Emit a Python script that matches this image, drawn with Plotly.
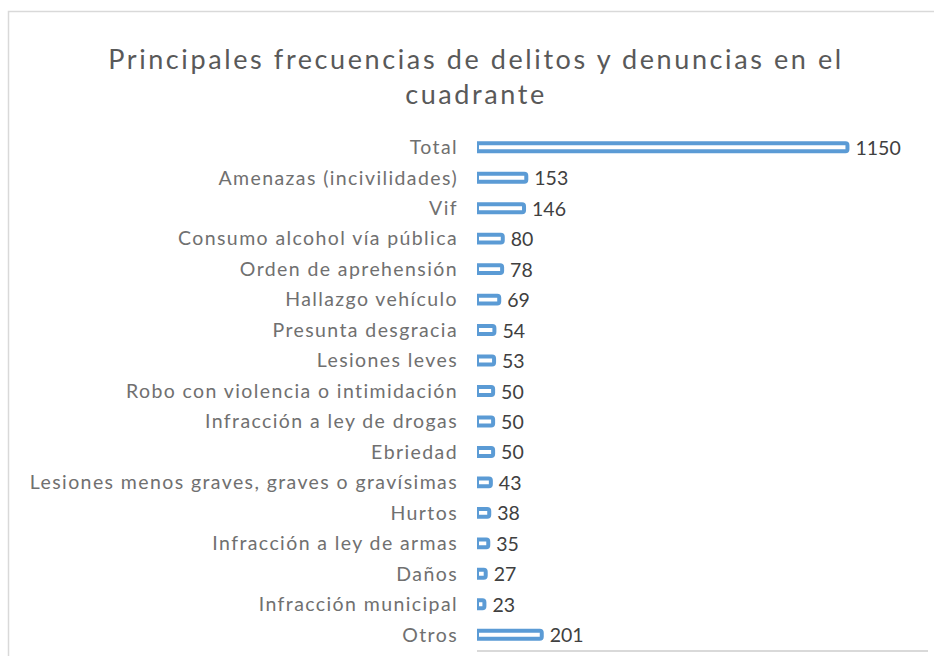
import plotly.graph_objects as go

categories = [
    "Total",
    "Amenazas (incivilidades)",
    "Vif",
    "Consumo alcohol vía pública",
    "Orden de aprehensión",
    "Hallazgo vehículo",
    "Presunta desgracia",
    "Lesiones leves",
    "Robo con violencia o intimidación",
    "Infracción a ley de drogas",
    "Ebriedad",
    "Lesiones menos graves, graves o gravísimas",
    "Hurtos",
    "Infracción a ley de armas",
    "Daños",
    "Infracción municipal",
    "Otros",
]
values = [1150, 153, 146, 80, 78, 69, 54, 53, 50, 50, 50, 43, 38, 35, 27, 23, 201]
title_text = "Principales frecuencias de delitos y denuncias en el<br>cuadrante"

W, H = 934, 656
ML, MR, MT, MB = 477, 6, 132, 6
BLUE = "#5B9BD5"

fig = go.Figure(
    go.Bar(
        y=categories,
        x=values,
        orientation="h",
        marker=dict(color="white", line=dict(color=BLUE, width=4), cornerradius=2),
        text=[" " + str(v) for v in values],
        textposition="outside",
        constraintext="none",
        cliponaxis=False,
        textfont=dict(family="Lato", size=19.5, color="#404040"),
        hoverinfo="skip",
    )
)

pw = W - ML - MR
ph = H - MT - MB
fx0 = (8.5 - ML) / pw
fy1 = 1 + (MT - 11.5) / ph
fig.add_shape(
    type="rect", xref="paper", yref="paper",
    x0=fx0, x1=1 + (MR + 20) / pw, y0=-(MB + 20) / ph, y1=fy1,
    line=dict(color="#D9D9D9", width=1.5), fillcolor="rgba(0,0,0,0)", layer="below",
)

fig.update_layout(
    width=W, height=H,
    margin=dict(l=ML, r=MR, t=MT, b=MB),
    paper_bgcolor="white", plot_bgcolor="white",
    bargap=0.74,
    showlegend=False,
    title=dict(
        text=title_text,
        x=476 / W, xanchor="center",
        y=1 - 69 / H, yanchor="top",
        font=dict(family="Lato", size=27, color="#595959"),
    ),
    xaxis=dict(
        range=[0, 1400], showgrid=False, zeroline=False,
        showticklabels=False, showline=True, linecolor="#D9D9D9", linewidth=1.5,
        ticks="",
    ),
    yaxis=dict(
        categoryorder="array", categoryarray=categories[::-1],
        showgrid=False, zeroline=False, showline=False, ticks="",
        tickfont=dict(family="Lato", size=19.5, color="#707070"),
        ticklabelstandoff=18,
    ),
)

post = """
document.body.style.margin = '0';
document.querySelectorAll('.gtitle').forEach(function(e){ e.style.letterSpacing = '2.6px'; });
document.querySelectorAll('.ytick text').forEach(function(e){ e.style.letterSpacing = '1.4px'; });
"""

fig.write_html("out.html", post_script=post, config={"displayModeBar": False})
